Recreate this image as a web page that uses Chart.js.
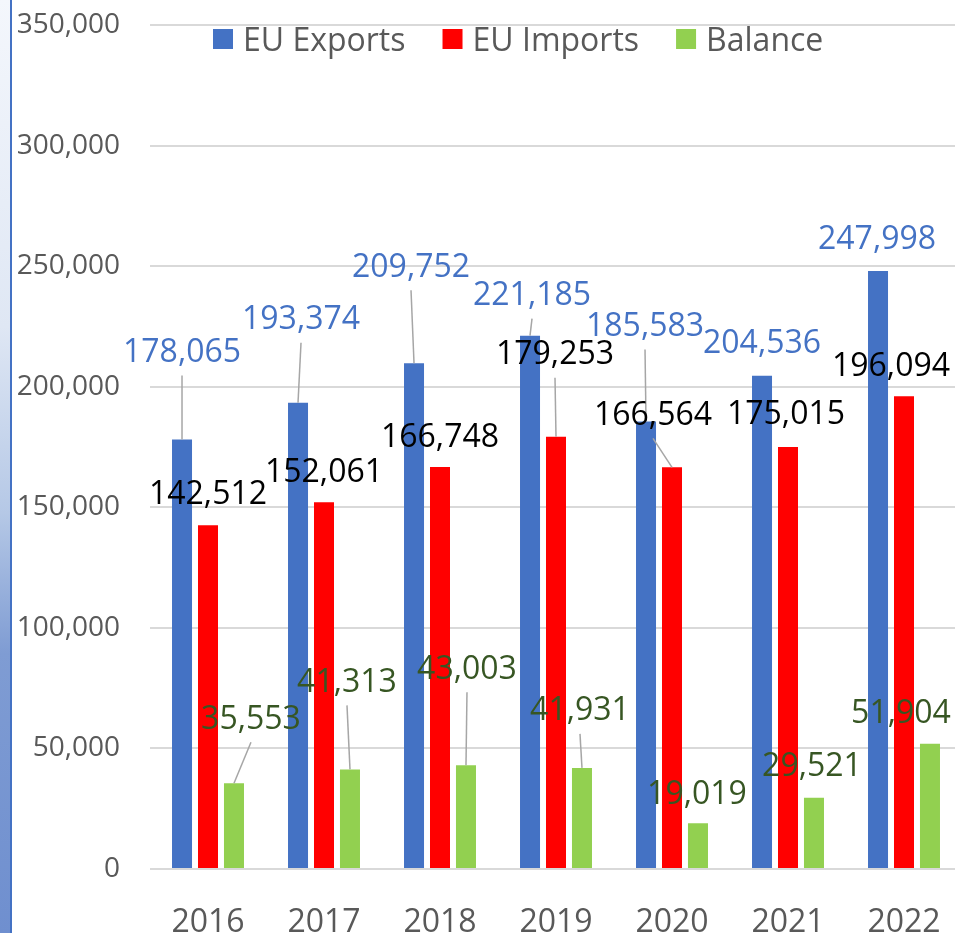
<!DOCTYPE html>
<html>
<head>
<meta charset="utf-8">
<title>EU trade balance</title>
<script src="https://cdn.jsdelivr.net/npm/chart.js@4.4.0/dist/chart.umd.min.js"></script>
<style>
  html, body { margin: 0; padding: 0; background: #fff; overflow: hidden; }
  #wrap { position: absolute; left: 0; top: 0; width: 970px; height: 936px; }
  #strip {
    position: absolute; left: 0; top: 0; width: 10px; height: 933px; z-index: 2;
    background: linear-gradient(to bottom, #f4f7fc 0%, #dfe7f4 35%, #b5c8e6 55%, #7f9cd3 70%, #6f8fcf 100%);
    border-right: 2px solid #4472c4;
  }
</style>
</head>
<body>
<div id="strip"></div>
<div id="wrap"><canvas id="tradeChart"></canvas></div>
<script>
// Data (EUR million)
const years = ['2016', '2017', '2018', '2019', '2020', '2021', '2022'];
const euExports = [178065, 193374, 209752, 221185, 185583, 204536, 247998];
const euImports = [142512, 152061, 166748, 179253, 166564, 175015, 196094];
const balance = [35553, 41313, 43003, 41931, 19019, 29521, 51904];

const seriesNames = ['EU Exports', 'EU Imports', 'Balance'];
const barColors = ['#4472c4', '#ff0000', '#92d050'];
const labelColors = ['#4472c4', '#000000', '#375623'];

// label centre offset from the top of its bar, in px (moved by hand in the original)
const labelOffsets = [
    [[0, -89], [3, -85], [-3, -98], [2, -42], [-1, -97], [0, -34], [-1, -33]],
    [[0, -33], [0, -32], [0, -31], [-1, -84], [-19, -54], [-2, -34], [-13, -32]],
    [[17, -66], [-3, -89], [1, -98], [-2, -59], [-1, -31], [-2, -33], [-29, -32]]
];

const FONT = '"Open Sans", sans-serif';

// Value labels with leader lines
const valueLabels = {
    id: 'valueLabels',
    afterDatasetsDraw(chart) {
        const ctx = chart.ctx;
        ctx.save();
        ctx.strokeStyle = '#a6a6a6';
        ctx.lineWidth = 1.5;
        chart.data.datasets.forEach((ds, d) => {
            chart.getDatasetMeta(d).data.forEach((bar, i) => {
                const off = labelOffsets[d][i];
                if (off[1] < -38) {
                    ctx.beginPath();
                    ctx.moveTo(bar.x + off[0], bar.y + off[1] + 25);
                    ctx.lineTo(bar.x, bar.y);
                    ctx.stroke();
                }
            });
        });
        ctx.font = '32px ' + FONT;
        ctx.textAlign = 'center';
        ctx.textBaseline = 'alphabetic';
        chart.data.datasets.forEach((ds, d) => {
            ctx.fillStyle = labelColors[d];
            chart.getDatasetMeta(d).data.forEach((bar, i) => {
                const off = labelOffsets[d][i];
                ctx.fillText(ds.data[i].toLocaleString('en-US'), bar.x + off[0], bar.y + off[1] + 11.5);
            });
        });
        ctx.restore();
    }
};

// Legend drawn inside the plot, like the original
const insideLegend = {
    id: 'insideLegend',
    afterDraw(chart) {
        const ctx = chart.ctx;
        ctx.save();
        ctx.font = '32px ' + FONT;
        ctx.textBaseline = 'alphabetic';
        let x = 213;
        chart.data.datasets.forEach(ds => {
            ctx.fillStyle = ds.backgroundColor;
            ctx.fillRect(x, 29, 20, 20);
            ctx.fillStyle = '#595959';
            ctx.fillText(ds.label, x + 30, 50.5);
            x += 30 + ctx.measureText(ds.label).width + 37;
        });
        ctx.restore();
    }
};

const ctx = document.getElementById('tradeChart').getContext('2d');
const tradeChart = new Chart(ctx, {
    type: 'bar',
    data: {
        labels: years,
        datasets: [euExports, euImports, balance].map((values, k) => ({
            label: seriesNames[k],
            data: values,
            backgroundColor: barColors[k],
            borderWidth: 0,
            categoryPercentage: 0.672,
            barPercentage: 0.77
        }))
    },
    options: {
        responsive: true,
        maintainAspectRatio: false,
        animation: false,
        layout: {
            padding: { left: 15, right: 8, top: 25, bottom: 0 }
        },
        plugins: {
            legend: { display: false },
            tooltip: { enabled: false }
        },
        scales: {
            x: {
                grid: { display: false },
                border: { display: false },
                ticks: {
                    color: '#595959',
                    font: { family: FONT, size: 32 },
                    padding: 27
                },
                afterFit(scale) { scale.height = 67; }
            },
            y: {
                min: 0,
                max: 350000,
                ticks: {
                    stepSize: 50000,
                    color: '#595959',
                    font: { family: FONT, size: 28 },
                    padding: 30
                },
                grid: {
                    color: '#d9d9d9',
                    lineWidth: 2,
                    drawTicks: false
                },
                border: { display: false },
                afterFit(scale) {
                    scale.width = 135;
                    scale.paddingTop = 0;
                    scale.paddingBottom = 0;
                }
            }
        }
    },
    plugins: [valueLabels, insideLegend]
});
</script>
</body>
</html>
